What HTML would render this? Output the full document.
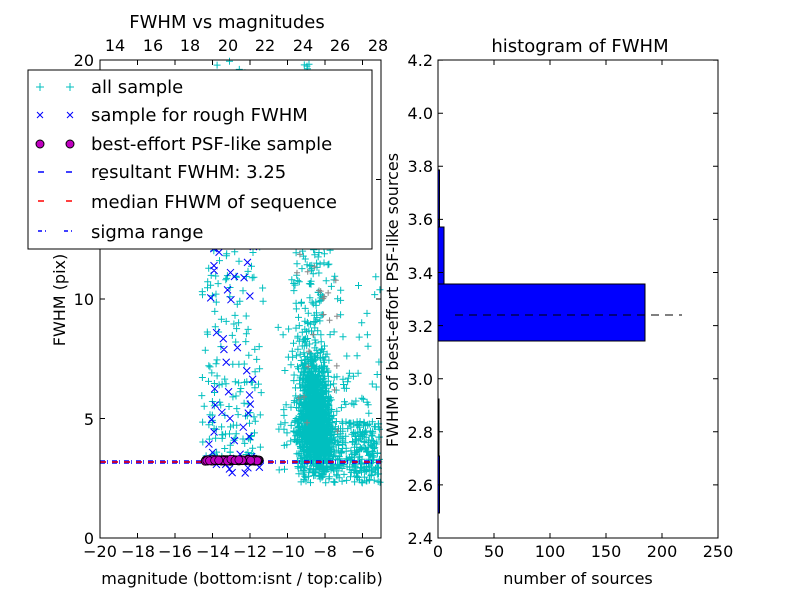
<!DOCTYPE html>
<html><head><meta charset="utf-8"><style>
body{margin:0;background:#fff;font-family:"Liberation Sans","DejaVu Sans",sans-serif}
svg text{font-family:"DejaVu Sans","Liberation Sans",sans-serif;fill:#000}
</style></head><body>
<svg id="s" width="800" height="600" xmlns="http://www.w3.org/2000/svg">
<rect width="800" height="600" fill="#fff"/>
<g id="pts"></g>
<rect x="100" y="60" width="281" height="478" fill="none" stroke="#000" stroke-width="1"/>
<g font-size="16" text-anchor="middle">
<text x="100" y="557">−20</text><text x="138" y="557">−18</text><text x="175" y="557">−16</text><text x="213" y="557">−14</text><text x="250" y="557">−12</text><text x="288" y="557">−10</text><text x="325" y="557">−8</text><text x="363" y="557">−6</text>
<text x="115" y="51">14</text><text x="153" y="51">16</text><text x="190" y="51">18</text><text x="228" y="51">20</text><text x="265" y="51">22</text><text x="303" y="51">24</text><text x="340" y="51">26</text><text x="378" y="51">28</text>
</g>
<g font-size="16" text-anchor="end">
<text x="94" y="544">0</text><text x="94" y="425">5</text><text x="94" y="305">10</text><text x="94" y="66">20</text>
</g>
<text x="227" y="28" font-size="18" text-anchor="middle">FWHM vs magnitudes</text>
<text x="242" y="584" font-size="16" text-anchor="middle">magnitude (bottom:isnt / top:calib)</text>
<text transform="translate(65,300) rotate(-90)" font-size="16" text-anchor="middle">FWHM (pix)</text>
<rect x="28" y="70" width="344" height="179" fill="#fff" stroke="#000"/>
<g font-size="18">
<text x="91" y="93">all sample</text>
<text x="91" y="121">sample for rough FWHM</text>
<text x="91" y="150">best-effort PSF-like sample</text>
<text x="91" y="178">resultant FWHM: 3.25</text>
<text x="91" y="208">median FHWM of sequence</text>
<text x="91" y="238">sigma range</text>
</g>
<g stroke="#00bfbf" stroke-width="1"><path d="M36 87h8M40 83v8M66 87h8M70 83v8"/></g>
<g stroke="#00f" stroke-width="1"><path d="M37 112l6 6M43 112l-6 6M67 112l6 6M73 112l-6 6"/></g>
<circle cx="40" cy="144" r="4" fill="#bf00bf" stroke="#000"/><circle cx="70" cy="144" r="4" fill="#bf00bf" stroke="#000"/>
<path d="M38 172h6M66 172h6" stroke="#00f" stroke-width="1.5"/>
<path d="M38 201h6M66 201h6" stroke="#f00" stroke-width="1.5"/>
<path d="M38 231h4M45 231h1M64 231h4M71 231h1" stroke="#00f" stroke-width="1.5"/>
<path d="M438 284H645V341H438Z" fill="#00f" stroke="#000"/>
<path d="M438 227H444V284H438Z" fill="#00f" stroke="#000"/>
<path d="M438 170H439.5V227H438Z" fill="#00f" stroke="#000"/>
<path d="M438 456H439.5V513H438Z" fill="#00f" stroke="#000"/>
<path d="M438 399H439V456H438Z" fill="#00f" stroke="#000"/>
<path d="M455 315H682" stroke="#000" stroke-dasharray="8,6"/>
<rect x="438" y="60" width="280" height="478" fill="none" stroke="#000"/>
<g font-size="16" text-anchor="end">
<text x="433" y="544">2.4</text><text x="433" y="491">2.6</text><text x="433" y="438">2.8</text><text x="433" y="385">3.0</text><text x="433" y="332">3.2</text><text x="433" y="279">3.4</text><text x="433" y="225">3.6</text><text x="433" y="172">3.8</text><text x="433" y="119">4.0</text><text x="433" y="66">4.2</text>
</g>
<g font-size="16" text-anchor="middle">
<text x="438" y="557">0</text><text x="494" y="557">50</text><text x="550" y="557">100</text><text x="606" y="557">150</text><text x="662" y="557">200</text><text x="718" y="557">250</text>
</g>
<text x="580" y="52" font-size="18" text-anchor="middle">histogram of FWHM</text>
<text x="578" y="584" font-size="16" text-anchor="middle">number of sources</text>
<text transform="translate(398,300) rotate(-90)" font-size="16" text-anchor="middle">FWHM of best-effort PSF-like sources</text>
</svg>
<script>
var N="http://www.w3.org/2000/svg",g=document.getElementById("pts");
var seed=11;function r(){seed=(seed*16807)%2147483647;return seed/2147483647}
function gs(){return (r()+r()+r()+r()-2)*0.87}
function X(m){return 100+(m+20)*18.75}function Y(f){return 538-f*23.9}
var d="";
function plus(m,f){var x=X(m),y=Y(f);if(x<101||x>380||y<61||y>537)return;d+="M"+(x-3.5).toFixed(1)+" "+y.toFixed(1)+"h7M"+x.toFixed(1)+" "+(y-3.5).toFixed(1)+"v7"}
var i,m,f;
for(i=0;i<1300;i++){m=-8.5+gs()*0.8;f=2.8+Math.abs(gs())*3.5+r()*1.5;f+= (-8.5-m)*0.8;plus(m,f)}
for(i=0;i<450;i++){m=-9.5+r()*4.7;f=2.3+r()*2.6;plus(m,f)}
for(i=0;i<300;i++){m=-8.8+gs()*1.1;f=4+Math.pow(r(),1.5)*16;plus(m,f)}
for(i=0;i<120;i++){m=-10.5+r()*5.5;f=2.5+r()*9;plus(m,f)}
for(i=0;i<230;i++){m=-14.6+r()*3.3;f=3.3+Math.pow(r(),1.5)*17;plus(m,f)}
var p=document.createElementNS(N,"path");p.setAttribute("d",d);p.setAttribute("stroke","#00bfbf");p.setAttribute("fill","none");g.appendChild(p);
var dg="";for(i=0;i<30;i++){var x=X(-9.5+r()*2.5),y=Y(4+r()*12);dg+="M"+(x-3)+" "+y+"h6M"+x+" "+(y-3)+"v6"}
p=document.createElementNS(N,"path");p.setAttribute("d",dg);p.setAttribute("stroke","#888");g.appendChild(p);
var db="";for(i=0;i<55;i++){m=-14.4+r()*2.9;f=i<12?2.7+r()*0.9:3.6+Math.pow(r(),1.1)*12;var x=X(m),y=Y(f);db+="M"+(x-3.5)+" "+(y-3.5)+"l7 7M"+(x+3.5)+" "+(y-3.5)+"l-7 7"}
p=document.createElementNS(N,"path");p.setAttribute("d",db);p.setAttribute("stroke","#00f");g.appendChild(p);
function ln(y,c,da){var l=document.createElementNS(N,"path");l.setAttribute("d","M100 "+y+"H381");l.setAttribute("stroke",c);l.setAttribute("stroke-width","1.5");l.setAttribute("stroke-dasharray",da);g.appendChild(l)}
ln(461,"#00f","5,2,1,4");ln(463,"#00f","5,2,1,4");ln(462,"#00f","6,6");ln(462,"#f00","6,6");
for(i=0;i<200;i++){var c=document.createElementNS(N,"circle");c.setAttribute("cx",X(-14.4+r()*2.9));c.setAttribute("cy",Y(3.25+gs()*0.04));c.setAttribute("r",4);c.setAttribute("fill","#bf00bf");c.setAttribute("stroke","#000");c.setAttribute("stroke-width","0.7");g.appendChild(c)}
var t="";
[-20,-18,-16,-14,-12,-10,-8,-6].forEach(function(v){var x=X(v);t+="M"+x+" 538v-5M"+x+" 60v5"});
[0,5,10,15,20].forEach(function(v){var y=Y(v);t+="M100 "+y+"h5M381 "+y+"h-5"});
for(var k=0;k<=5;k++){var x=438+k*56;t+="M"+x+" 538v-5M"+x+" 60v5"}
for(k=0;k<=9;k++){var y=538-k*53.1;t+="M438 "+y+"h5M718 "+y+"h-5"}
p=document.createElementNS(N,"path");p.setAttribute("d",t);p.setAttribute("stroke","#000");document.getElementById("s").appendChild(p);
</script>
</body></html>
